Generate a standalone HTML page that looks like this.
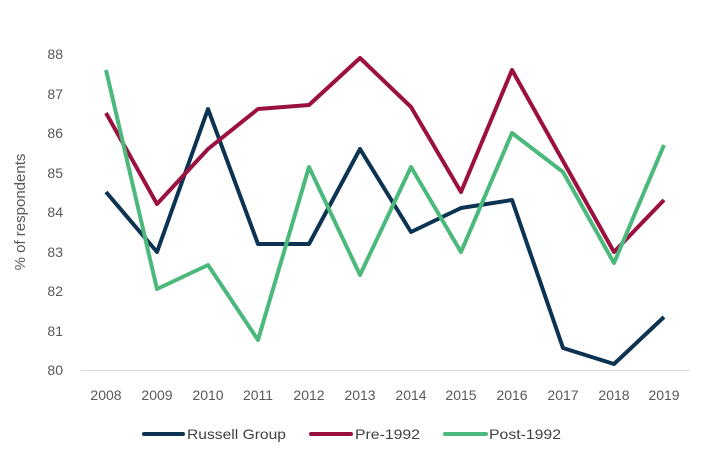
<!DOCTYPE html>
<html><head><meta charset="utf-8"><style>
body{margin:0;background:#fff;}
svg{display:block;font-family:"Liberation Sans",sans-serif;}
</style></head><body>
<svg width="707" height="460" viewBox="0 0 707 460">
<line x1="81" y1="370.5" x2="690" y2="370.5" stroke="#d9d9d9" stroke-width="1"/>
<g font-size="14" fill="#595959" text-anchor="end">
<text x="63" y="375">80</text><text x="63" y="336">81</text><text x="63" y="296">82</text><text x="63" y="257">83</text>
<text x="63" y="217">84</text><text x="63" y="178">85</text><text x="63" y="138">86</text><text x="63" y="99">87</text><text x="63" y="59">88</text>
</g>
<g font-size="14" fill="#595959" text-anchor="middle">
<text x="106" y="400">2008</text><text x="157" y="400">2009</text><text x="208" y="400">2010</text><text x="258" y="400">2011</text>
<text x="309" y="400">2012</text><text x="360" y="400">2013</text><text x="411" y="400">2014</text><text x="461" y="400">2015</text>
<text x="512" y="400">2016</text><text x="563" y="400">2017</text><text x="614" y="400">2018</text><text x="664" y="400">2019</text>
</g>
<text transform="translate(25,212) rotate(-90)" font-size="15" fill="#595959" text-anchor="middle">% of respondents</text>
<g fill="none" stroke-width="4" stroke-linejoin="round">
<polyline stroke="#0d3352" points="106,192 157,252 208,109 258,244 309,244 360,149 411,232 461,208 512,200 563,348 614,364 664,317"/>
<polyline stroke="#9b1040" points="106,113 157,204 208,149 258,109 309,105 360,58 411,107 461,192 512,70 563,161 614,252 664,200"/>
<polyline stroke="#4cb97c" points="106,70 157,289 208,265 258,340 309,167 360,275 411,167 461,252 512,133 563,172 614,263 664,145"/>
</g>
<g font-size="14" fill="#404040">
<line x1="144" y1="434" x2="183" y2="434" stroke="#0d3352" stroke-width="4" stroke-linecap="round"/><text x="187" y="439" textLength="99" lengthAdjust="spacingAndGlyphs">Russell Group</text>
<line x1="311" y1="434" x2="351" y2="434" stroke="#9b1040" stroke-width="4" stroke-linecap="round"/><text x="355" y="439" textLength="65" lengthAdjust="spacingAndGlyphs">Pre-1992</text>
<line x1="445" y1="434" x2="486" y2="434" stroke="#4cb97c" stroke-width="4" stroke-linecap="round"/><text x="489" y="439" textLength="72" lengthAdjust="spacingAndGlyphs">Post-1992</text>
</g>
</svg>
</body></html>
